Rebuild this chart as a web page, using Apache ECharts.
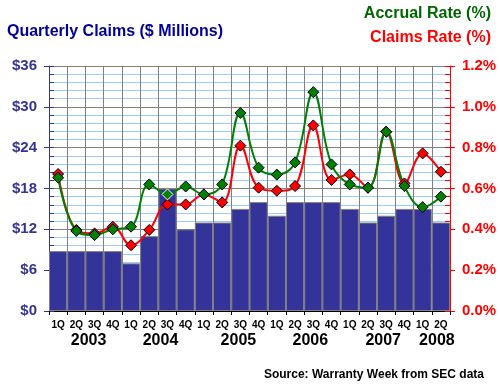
<!DOCTYPE html>
<html><head><meta charset="utf-8">
<script src="https://cdn.jsdelivr.net/npm/echarts@6/dist/echarts.min.js"></script>
<style>html,body{margin:0;padding:0;background:#fff}#c{width:500px;height:385px}</style>
</head><body><div id="c"></div>
<script>
const quarters = ['1Q','2Q','3Q','4Q','1Q','2Q','3Q','4Q','1Q','2Q','3Q','4Q','1Q','2Q','3Q','4Q','1Q','2Q','3Q','4Q','1Q','2Q'];
const yearLabels = ['','','2003','','','','2004','','','','2005','','','','2006','','','','2007','','','2008'];
const claimsMillions = [8.8,8.8,8.8,8.8,7,11,18,12,13,13,15,16,14,16,16,16,15,13,14,15,15,13];
const accrualRate = [0.653,0.392,0.372,0.400,0.413,0.620,0.571,0.610,0.571,0.620,0.970,0.702,0.668,0.728,1.072,0.718,0.620,0.604,0.878,0.612,0.509,0.560];
const claimsRate = [0.671,0.397,0.380,0.413,0.322,0.397,0.522,0.522,0.571,0.532,0.810,0.604,0.589,0.612,0.909,0.642,0.669,0.604,0.878,0.625,0.772,0.682];
const leftTicks = ['$0','$6','$12','$18','$24','$30','$36'];
const rightTicks = ['0.0%','0.2%','0.4%','0.6%','0.8%','1.0%','1.2%'];

// label nudges (styling, not data)
const yearShift = {'2003':-6,'2004':-7,'2005':-2,'2006':-3,'2007':-3,'2008':-4};
const rich = {};
Object.keys(yearShift).forEach(function(y){
  const s = yearShift[y];
  rich['y'+y] = {fontSize:16,fontWeight:'bold',color:'#000',fontFamily:'Liberation Sans, Arial, sans-serif',
    padding: s<0 ? [0,-2*s,0,0] : [0,0,0,2*s]};
});

const chart = echarts.init(document.getElementById('c'), null, {renderer:'canvas'});
const FF = 'Liberation Sans, Arial, sans-serif';
chart.setOption({
  animation:false,
  backgroundColor:'#fff',
  title:[
    {text:'Quarterly Claims ($ Millions)', left:2, top:19, textStyle:{fontFamily:FF,fontSize:16,fontWeight:'bold',color:'#000099'}},
    {text:'Accrual Rate (%)', right:4, top:1, textStyle:{fontFamily:FF,fontSize:16,fontWeight:'bold',color:'#006600'}},
    {text:'Claims Rate (%)', right:4, top:25, textStyle:{fontFamily:FF,fontSize:16,fontWeight:'bold',color:'#FF0000'}},
    {text:'Source: Warranty Week from SEC data', right:11, top:364, textStyle:{fontFamily:FF,fontSize:12,fontWeight:'bold',color:'#000'}}
  ],
  grid:{left:49,right:50,top:66,bottom:74,containLabel:false},
  xAxis:[
    {type:'category', data:quarters, boundaryGap:true, position:'bottom',
     axisLine:{show:true,lineStyle:{color:'#000',width:1}},
     axisTick:{show:true,length:4,interval:0,lineStyle:{color:'#000'}},
     axisLabel:{interval:0,margin:9,fontFamily:FF,fontSize:10,fontWeight:'bold',color:'#000'},
     splitLine:{show:true,interval:0,lineStyle:{color:'#808080',width:1}}},
    {type:'category', data:quarters, boundaryGap:true, position:'bottom',
     axisLine:{show:false}, axisTick:{show:false}, splitLine:{show:false},
     axisLabel:{interval:0,margin:22,
       formatter:function(v,i){const y=yearLabels[i]; return y?('{y'+y+'|'+y+'}'):'';},
       rich:rich}}
  ],
  yAxis:[
    {type:'value', min:0, max:36, interval:6, position:'left',
     axisLine:{show:true,lineStyle:{color:'#333399',width:1}},
     axisTick:{show:true,inside:true,length:5,lineStyle:{color:'#333399'}},
     minorTick:{show:true,splitNumber:5,length:5,lineStyle:{color:'#333399'}},
     axisLabel:{margin:12,fontFamily:FF,fontSize:15,fontWeight:'bold',color:'#333399',
       formatter:function(v){return leftTicks[Math.round(v/6)];}},
     splitLine:{show:true,lineStyle:{color:'#808080',width:1}},
     minorSplitLine:{show:true,lineStyle:{color:'#99CCFF',width:1}}},
    {type:'value', min:0, max:1.2, interval:0.2, position:'right',
     axisLine:{show:true,lineStyle:{color:'#FF0000',width:1}},
     axisTick:{show:true,inside:true,length:5,lineStyle:{color:'#FF0000'}},
     minorTick:{show:true,splitNumber:5,length:5,lineStyle:{color:'#FF0000'}},
     axisLabel:{margin:12,fontFamily:FF,fontSize:15,fontWeight:'bold',color:'#FF0000',
       formatter:function(v){return rightTicks[Math.round(v/0.2)];}},
     splitLine:{show:false}},
    {type:'value', min:0, max:36, interval:6, position:'left',
     axisLine:{show:false}, axisLabel:{show:false}, splitLine:{show:false},
     axisTick:{show:true,inside:false,length:5,lineStyle:{color:'#333399'}}},
    {type:'value', min:0, max:1.2, interval:0.2, position:'right',
     axisLine:{show:false}, axisLabel:{show:false}, splitLine:{show:false},
     axisTick:{show:true,inside:false,length:5,lineStyle:{color:'#FF0000'}}}
  ],
  series:[
    {type:'bar', data:claimsMillions, xAxisIndex:0, yAxisIndex:0, barCategoryGap:'0%',
     itemStyle:{color:'#333399',borderColor:'#808080',borderWidth:1}},
    {type:'line', data:claimsRate, yAxisIndex:1, smooth:0.4, symbol:'diamond', symbolSize:11,
     lineStyle:{color:'#FF0000',width:2}, itemStyle:{color:'#FF0000',borderColor:'#000',borderWidth:1}},
    {type:'line', data:accrualRate.map(function(v,i){return i===6?{value:v,itemStyle:{borderColor:'#fff'}}:v;}),
     yAxisIndex:1, smooth:0.4, symbol:'diamond', symbolSize:11,
     lineStyle:{color:'#008000',width:2}, itemStyle:{color:'#008000',borderColor:'#000',borderWidth:1}}
  ]
});
</script></body></html>
